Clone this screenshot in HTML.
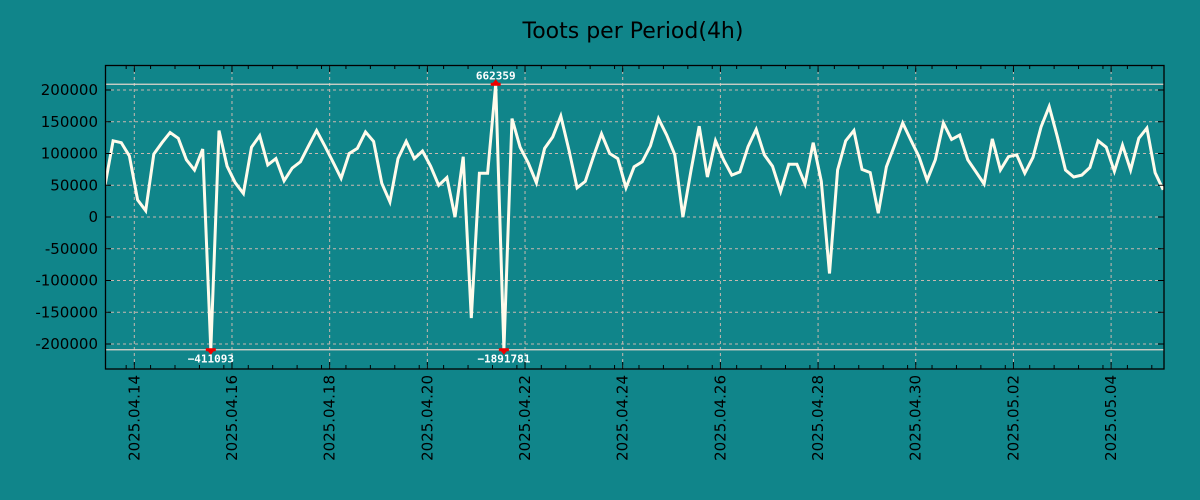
<!DOCTYPE html>
<html><head><meta charset="utf-8"><style>
html,body{margin:0;padding:0;background:#10858a;}
svg{display:block;font-family:"DejaVu Sans","Liberation Sans",sans-serif;}
</style></head><body>
<svg id="chart" width="1200" height="500" xmlns="http://www.w3.org/2000/svg">
<rect width="1200" height="500" fill="#10858a"/>
<text x="633" y="38" font-size="22" text-anchor="middle" fill="#000">Toots per Period(4h)</text>
<defs><clipPath id="pc"><rect x="105" y="65" width="1059" height="304"/></clipPath></defs>
<g id="grid"></g>
<g id="series" clip-path="url(#pc)"></g>
<g id="marks"></g>
<rect x="105.5" y="65.5" width="1058.5" height="303.5" fill="none" stroke="#000" stroke-width="1.3"/>
<g id="axes"></g>
</svg>
<script>
const values = [50000,120000,117000,96000,27000,10000,99000,117000,133000,124000,90000,74000,107000,-411093,136000,80000,54000,37000,110000,128000,82000,92000,57000,77000,87000,112000,136000,112000,87000,61000,100000,108000,134000,119000,53000,24000,92000,119000,92000,104000,80000,50000,62000,0,95000,-159000,69000,69000,662359,-1891781,155000,110000,85000,54000,108000,126000,159000,105000,46000,56000,95000,131000,100000,92000,46000,79000,87000,112000,155000,129000,98000,0,74000,143000,63000,120000,90000,66000,71000,111000,138000,98000,80000,40000,83000,83000,52000,117000,56000,-89000,74000,120000,136000,75000,70000,6000,79000,113000,148000,121000,95000,58000,90000,148000,122000,129000,90000,71000,52000,123000,74000,95000,98000,69000,94000,142000,174000,126000,74000,63000,66000,78000,120000,110000,72000,113000,74000,124000,140000,70000,43000];
const yTicks = [200000,150000,100000,50000,0,-50000,-100000,-150000,-200000];
const xTickLabels = ["2025.04.14","2025.04.16","2025.04.18","2025.04.20","2025.04.22","2025.04.24","2025.04.26","2025.04.28","2025.04.30","2025.05.02","2025.05.04"];
const xTickIndex = [3.6,15.6,27.6,39.6,51.6,63.6,75.6,87.6,99.6,111.6,123.6];
const clipLimit = 209000;
const NS="http://www.w3.org/2000/svg";
const X = i => 105 + i*8.14;
const Y = v => 217 - v*127/200000;
function mk(tag, attrs, parent){const e=document.createElementNS(NS,tag);for(const k in attrs)e.setAttribute(k,attrs[k]);parent.appendChild(e);return e;}
const grid=document.getElementById('grid'), axes=document.getElementById('axes'), series=document.getElementById('series'), marks=document.getElementById('marks');
yTicks.forEach(v=>{
  const y=Y(v);
  const g=mk('line',{x1:105,x2:1164,y1:y,y2:y,stroke:'#c9b8b0','stroke-dasharray':'3,3','stroke-width':1},grid);
  
  
  mk('line',{x1:105,x2:111,y1:y,y2:y,stroke:'#000'},axes);
  mk('line',{x1:1158,x2:1164,y1:y,y2:y,stroke:'#000'},axes);
  const t=mk('text',{x:98,y:y+5,'font-size':15,'text-anchor':'end',fill:'#000'},axes);
  t.textContent=String(v);
  
  
});
xTickIndex.forEach((idx,k)=>{
  const x=X(idx);
  const g=mk('line',{x1:x,x2:x,y1:65,y2:369,stroke:'#c9b8b0','stroke-dasharray':'3,3','stroke-width':1},grid);
  
  
  mk('line',{x1:x,x2:x,y1:362,y2:369,stroke:'#000'},axes);
  mk('line',{x1:x,x2:x,y1:65,y2:72,stroke:'#000'},axes);
  const t=mk('text',{x:0,y:0,'font-size':15,'text-anchor':'end',fill:'#000',transform:`translate(${x+5},375) rotate(-90)`},axes);
  t.textContent=xTickLabels[k];
  
  
});
for(let m=-0.4;m<132;m+=3){
  const x=X(m); if(x<105||x>1164)continue;
  mk('line',{x1:x,x2:x,y1:365,y2:369,stroke:'#000'},axes);
  mk('line',{x1:x,x2:x,y1:65,y2:69,stroke:'#000'},axes);
}
[clipLimit,-clipLimit].forEach(v=>{
  const l=mk('line',{x1:105,x2:1164,y1:Y(v),y2:Y(v),stroke:'#e0d6cc','stroke-width':1.3},grid);
  
  
});
const pts=values.map((v,i)=>X(i).toFixed(1)+','+Y(Math.max(-clipLimit,Math.min(clipLimit,v))).toFixed(1)).join(' ');
const line=mk('polyline',{points:pts,fill:'none',stroke:'#fffbeb','stroke-width':3,'stroke-linejoin':'miter'},series);


values.forEach((v,i)=>{
  if(Math.abs(v)<=clipLimit)return;
  const x=X(i), up=v>0, y=Y(up?clipLimit:-clipLimit);
  const r=mk('rect',{x:x-5,y:y-1.5,width:10,height:3,fill:'#ee0000'},marks);
  
  
  const tri=mk('polygon',{points:up?`${x-4},${y} ${x+4},${y} ${x},${y-5}`:`${x-4},${y} ${x+4},${y} ${x},${y+5}`,fill:'#ee0000'},marks);
  
  
  const t=mk('text',{x:x,y:up?y-5:y+13,'font-size':11,'font-weight':'bold','text-anchor':'middle',fill:'#fff','font-family':'"DejaVu Sans Mono","Liberation Mono",monospace'},marks);
  t.textContent=String(v).replace('-','\u2212');
  
  
});
</script>
</body></html>
